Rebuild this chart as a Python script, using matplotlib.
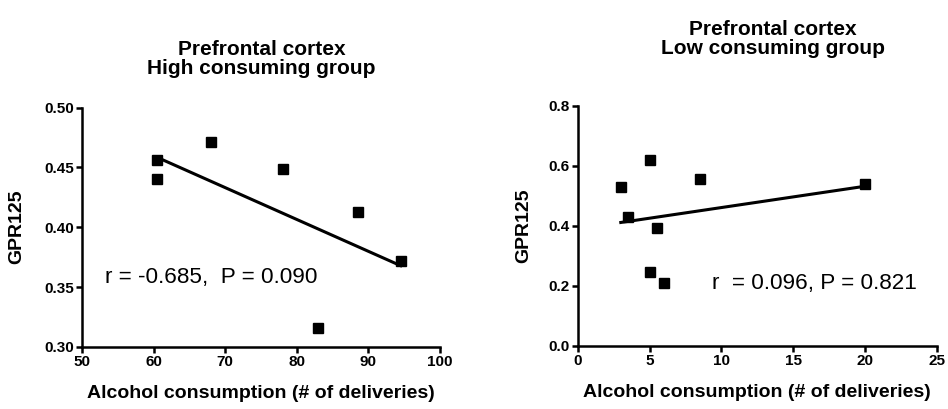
import numpy as np
import matplotlib
matplotlib.use("Agg")
import matplotlib.pyplot as plt

plt.rcParams['font.family'] = ['Liberation Sans', 'DejaVu Sans']
plt.rcParams['font.weight'] = 'bold'

# High consuming group
high_x = [60.5, 60.5, 68, 78, 88.5, 94.5, 83]
high_y = [0.456, 0.440, 0.471, 0.449, 0.413, 0.372, 0.316]
high_xticks = [50, 60, 70, 80, 90, 100]
high_yticks = [0.30, 0.35, 0.40, 0.45, 0.50]
high_stats = "r = -0.685,  P = 0.090"

# Low consuming group
low_x = [3, 3.5, 5, 8.5, 5.5, 5, 6, 20]
low_y = [0.527, 0.428, 0.617, 0.556, 0.392, 0.244, 0.21, 0.539]
low_xticks = [0, 5, 10, 15, 20, 25]
low_yticks = [0.0, 0.2, 0.4, 0.6, 0.8]
low_stats = "r  = 0.096, P = 0.821"

fig = plt.figure(figsize=(9.48, 4.09), dpi=100)
ax1 = fig.add_axes([0.0865, 0.152, 0.3777, 0.585])
ax2 = fig.add_axes([0.6094, 0.155, 0.3787, 0.587])


def style(ax, xticks, yticks, yfmt, ylab_x):
    for s in ['top', 'right']:
        ax.spines[s].set_visible(False)
    for s in ['left', 'bottom']:
        ax.spines[s].set_linewidth(1.8)
    ax.set_xlim(xticks[0], xticks[-1])
    ax.set_ylim(yticks[0], yticks[-1])
    ax.set_xticks(xticks, labels=[str(v) for v in xticks], fontweight='bold', fontsize=11)
    ax.set_yticks(yticks, labels=[yfmt % v for v in yticks], fontweight='bold', fontsize=11)
    ax.tick_params(direction='out', length=4, width=1.8, pad=2)
    ax.set_xlabel("Alcohol consumption (# of deliveries)", fontsize=14, fontweight='bold')
    ax.set_ylabel("GPR125", fontsize=14, fontweight='bold')
    ax.xaxis.set_label_coords(0.5, -0.16)
    ax.yaxis.set_label_coords(ylab_x, 0.5)


def scatter_fit(ax, x, y):
    ax.plot(x, y, 's', color='black', markersize=7, clip_on=False, zorder=3)
    k, b = np.polyfit(x, y, 1)
    xs = np.array([min(x), max(x)])
    ax.plot(xs, k * xs + b, color='black', lw=2.2)


scatter_fit(ax1, high_x, high_y)
style(ax1, high_xticks, high_yticks, "%.2f", -0.159)
ax1.text(53.2, 0.358, high_stats, fontsize=16.2, fontweight='normal', ha='left', va='center')

scatter_fit(ax2, low_x, low_y)
style(ax2, low_xticks, low_yticks, "%.1f", -0.128)
ax2.text(9.33, 0.208, low_stats, fontsize=16.2, fontweight='normal', ha='left', va='center')

fig.text(0.276, 0.8105, "Prefrontal cortex\nHigh consuming group", ha='center', va='bottom',
         fontsize=15, fontweight='bold', linespacing=1.0)
fig.text(0.815, 0.858, "Prefrontal cortex\nLow consuming group", ha='center', va='bottom',
         fontsize=15, fontweight='bold', linespacing=1.0)

fig.savefig("out.png", dpi=100)
